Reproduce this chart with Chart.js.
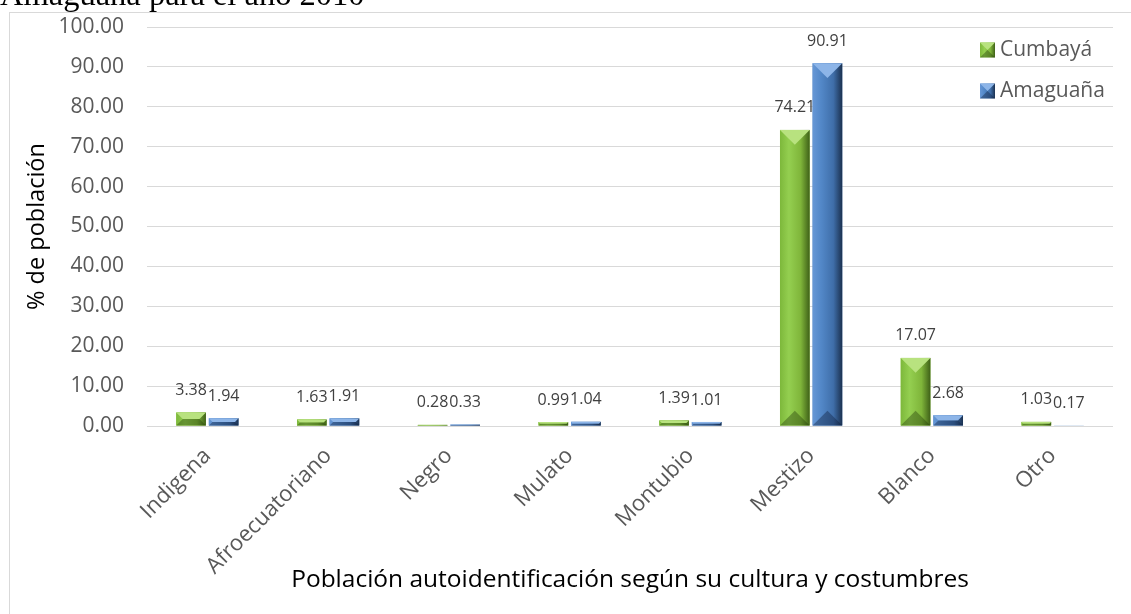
<!DOCTYPE html>
<html lang="es">
<head>
<meta charset="utf-8">
<title>Población autoidentificación</title>
<script src="https://cdn.jsdelivr.net/npm/chart.js@4.4.1/dist/chart.umd.min.js"></script>
<style>
  html, body { margin: 0; padding: 0; background: #fff; }
  #wrap { position: relative; width: 1131px; height: 614px; overflow: hidden; }
  #caption { position: absolute; left: 0; top: -22px; font: 32.5px/32px "Liberation Serif", "Times New Roman", serif; color: #000; white-space: nowrap; }
  #frame { position: absolute; left: 9px; top: 12px; width: 1200px; height: 700px; border-left: 1px solid #d9d9d9; border-top: 1px solid #d9d9d9; }
  canvas { position: absolute; left: 0; top: 0; }
</style>
</head>
<body>
<div id="wrap">
  <div id="frame"></div>
  <canvas id="chart" width="1131" height="614"></canvas>
  <div id="caption">Amaguaña para el año 2010</div>
</div>
<script>
const categories = ['Indigena', 'Afroecuatoriano', 'Negro', 'Mulato', 'Montubio', 'Mestizo', 'Blanco', 'Otro'];
const cumbaya = [3.38, 1.63, 0.28, 0.99, 1.39, 74.21, 17.07, 1.03];
const amaguana = [1.94, 1.91, 0.33, 1.04, 1.01, 90.91, 2.68, 0.17];
const seriesNames = ['Cumbayá', 'Amaguaña'];

const FONT = 'Open Sans';

// green / blue bevel look, like the office chart
const palettes = [
    {
        body: [[0, '#7db83b'], [0.3, '#94cf50'], [0.7, '#7fb53a'], [1, '#3f6118']],
        top: '#b8e27f',
        bottom: 'rgba(35,60,10,0.4)'
    },
    {
        body: [[0, '#6697d6'], [0.3, '#5287c7'], [0.7, '#3f6ea9'], [1, '#1b3150']],
        top: '#8db5e8',
        bottom: 'rgba(15,30,60,0.4)'
    }
];

function poly(ctx, pts) {
    ctx.beginPath();
    ctx.moveTo(pts[0][0], pts[0][1]);
    for (let i = 1; i < pts.length; i++) ctx.lineTo(pts[i][0], pts[i][1]);
    ctx.closePath();
    ctx.fill();
}

function bevelBox(ctx, L, T, R, B, pal) {
    const w = R - L, h = B - T;
    if (h < 0.5) return;
    const d = Math.min(w / 2, h / 2);
    const g = ctx.createLinearGradient(L, 0, R, 0);
    pal.body.forEach(([s, c]) => g.addColorStop(s, c));
    ctx.fillStyle = g;
    ctx.fillRect(L, T, w, h);
    ctx.fillStyle = pal.top;
    poly(ctx, [[L, T], [R, T], [R - d, T + d], [L + d, T + d]]);
    ctx.fillStyle = pal.bottom;
    poly(ctx, [[L, B], [R, B], [R - d, B - d], [L + d, B - d]]);
}

const bevelBars = {
    id: 'bevelBars',
    afterDatasetsDraw(chart) {
        const ctx = chart.ctx;
        ctx.save();
        chart.data.datasets.forEach((ds, i) => {
            chart.getDatasetMeta(i).data.forEach(bar => {
                const p = bar.getProps(['x', 'y', 'base', 'width'], true);
                bevelBox(ctx, p.x - p.width / 2, Math.min(p.y, p.base), p.x + p.width / 2, Math.max(p.y, p.base), palettes[i]);
            });
        });
        ctx.restore();
    }
};

const valueLabels = {
    id: 'valueLabels',
    afterDatasetsDraw(chart) {
        const ctx = chart.ctx;
        ctx.save();
        ctx.font = `16px "${FONT}"`;
        ctx.fillStyle = '#404040';
        ctx.textAlign = 'center';
        ctx.textBaseline = 'middle';
        chart.data.datasets.forEach((ds, i) => {
            chart.getDatasetMeta(i).data.forEach((bar, j) => {
                const p = bar.getProps(['x', 'y'], true);
                ctx.fillText(ds.data[j].toFixed(2), p.x, p.y - 22);
            });
        });
        ctx.restore();
    }
};

const insideLegend = {
    id: 'insideLegend',
    afterDraw(chart) {
        const ctx = chart.ctx;
        const a = chart.chartArea;
        const x = a.right - 133;
        ctx.save();
        ctx.font = `21px "${FONT}"`;
        ctx.textBaseline = 'middle';
        seriesNames.forEach((name, i) => {
            const cy = a.top + 23 + i * 41;
            bevelBox(ctx, x, cy - 7.5, x + 15, cy + 7.5, palettes[i]);
            ctx.fillStyle = '#595959';
            ctx.fillText(name, x + 20, cy);
        });
        ctx.restore();
    }
};

new Chart(document.getElementById('chart'), {
    type: 'bar',
    data: {
        labels: categories,
        datasets: [
            { label: seriesNames[0], data: cumbaya, backgroundColor: '#8cc63f' },
            { label: seriesNames[1], data: amaguana, backgroundColor: '#4f81bd' }
        ]
    },
    options: {
        responsive: false,
        animation: false,
        devicePixelRatio: 1,
        categoryPercentage: 0.54,
        barPercentage: 0.91,
        layout: { padding: { top: 27, right: 18, left: 0, bottom: 0 } },
        plugins: {
            legend: { display: false },
            tooltip: { enabled: false }
        },
        scales: {
            x: {
                grid: { display: false, drawTicks: false },
                border: { display: false },
                ticks: {
                    color: '#595959',
                    font: { family: FONT, size: 22 },
                    minRotation: 45,
                    maxRotation: 45,
                    padding: 17
                },
                title: {
                    display: true,
                    text: 'Población autoidentificación según su cultura y costumbres',
                    color: '#000',
                    font: { family: FONT, size: 24.5 },
                    padding: { top: 0, bottom: 19 }
                },
                afterFit: s => { s.height = 188; }
            },
            y: {
                min: 0,
                max: 100,
                grid: { color: '#d9d9d9', drawTicks: true, tickLength: 21, tickColor: 'rgba(0,0,0,0)' },
                border: { display: false },
                ticks: {
                    stepSize: 10,
                    color: '#595959',
                    font: { family: FONT, size: 21 },
                    padding: 2,
                    callback: v => v.toFixed(2)
                },
                title: {
                    display: true,
                    text: '% de población',
                    color: '#000',
                    font: { family: FONT, size: 23.5 },
                    padding: { top: 23, bottom: 0 }
                },
                afterFit: s => { s.width = 147; }
            }
        }
    },
    plugins: [bevelBars, valueLabels, insideLegend]
});
</script>
</body>
</html>
